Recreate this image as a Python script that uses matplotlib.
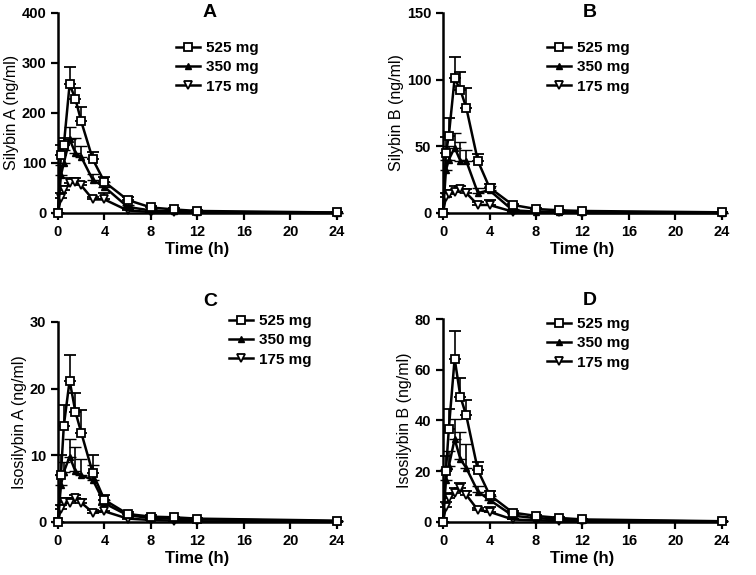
import numpy as np
import matplotlib.pyplot as plt

plt.rcParams['font.family'] = ['Liberation Sans', 'DejaVu Sans']

# sampling times (h)
time_h = [0, 0.25, 0.5, 1, 1.5, 2, 3, 4, 6, 8, 10, 12, 24]
doses = ['525 mg', '350 mg', '175 mg']

# Silybin A (ng/ml)
sa_525 = [0, 115, 135, 257, 228, 183, 107, 62, 26, 11, 7, 4, 1]
sa_525_err = [0, 20, 15, 35, 22, 28, 15, 10, 5, 3, 2, 1, 0]
sa_350 = [0, 75, 100, 147, 120, 112, 66, 52, 12, 5, 3, 2, 0.5]
sa_350_err = [0, 20, 25, 25, 30, 22, 12, 10, 3, 2, 1, 1, 0]
sa_175 = [0, 30, 45, 60, 62, 55, 27, 27, 5, 2, 1, 1, 0]
sa_175_err = [0, 10, 8, 10, 8, 6, 4, 12, 2, 1, 1, 0, 0]

# Silybin B (ng/ml)
sb_525 = [0, 45, 58, 101, 92, 79, 39, 19, 6, 3, 2, 1.5, 0.5]
sb_525_err = [0, 12, 13, 16, 14, 15, 5, 3, 1, 1, 0.5, 0, 0]
sb_350 = [0, 32, 40, 49, 39, 39, 15, 17, 2, 1, 1, 0.5, 0]
sb_350_err = [0, 8, 10, 11, 14, 8, 4, 3, 1, 0.5, 0, 0, 0]
sb_175 = [0, 12, 14, 16, 18, 15, 6, 6, 1, 0.5, 0.5, 0, 0]
sb_175_err = [0, 3, 3, 4, 2, 3, 2, 4, 0.5, 0, 0, 0, 0]

# Isosilybin A (ng/ml)
ia_525 = [0, 7, 14.4, 21.2, 16.5, 13.4, 7.3, 3.3, 1.2, 0.8, 0.7, 0.5, 0.2]
ia_525_err = [0, 3, 3.1, 3.8, 2.8, 3.4, 2.7, 0.8, 0.3, 0.2, 0.1, 0.1, 0]
ia_350 = [0, 5.5, 7.5, 9.8, 7.6, 7.0, 6.3, 2.8, 1.0, 0.6, 0.5, 0.4, 0.1]
ia_350_err = [0, 1.5, 1.5, 2.6, 3.6, 2.5, 2.2, 0.5, 0.2, 0.1, 0.1, 0, 0]
ia_175 = [0, 2.0, 3.0, 2.8, 3.6, 2.9, 1.4, 1.6, 0.5, 0.3, 0.2, 0.1, 0]
ia_175_err = [0, 0.5, 0.6, 0.8, 0.5, 0.6, 0.4, 1.0, 0.2, 0.1, 0, 0, 0]

# Isosilybin B (ng/ml)
ib_525 = [0, 20, 36.7, 64.4, 49.3, 42, 20.4, 10.7, 3.7, 2.4, 1.6, 1.0, 0.3]
ib_525_err = [0, 6, 8, 11, 7.4, 6, 3.3, 1.5, 0.5, 0.3, 0.2, 0.1, 0]
ib_350 = [0, 16.7, 22, 32.7, 24.7, 21.3, 12, 8.7, 2.5, 1.5, 1.0, 0.6, 0.2]
ib_350_err = [0, 4, 6, 8, 10.6, 9.4, 2, 1.5, 0.5, 0.3, 0.2, 0.1, 0]
ib_175 = [0, 6, 9.3, 11.3, 13.3, 10.7, 4.7, 4.0, 1.0, 0.6, 0.4, 0.2, 0]
ib_175_err = [0, 2, 2, 2, 2, 1.5, 1, 2, 0.3, 0.1, 0, 0, 0]

panels = [
    ('A', 'Silybin A (ng/ml)', 400, 100,
     [(sa_525, sa_525_err), (sa_350, sa_350_err), (sa_175, sa_175_err)],
     [0.0767, 0.6296, 0.369, 0.348], (0.40, 0.89), 1.0),
    ('B', 'Silybin B (ng/ml)', 150, 50,
     [(sb_525, sb_525_err), (sb_350, sb_350_err), (sb_175, sb_175_err)],
     [0.586, 0.6296, 0.369, 0.348], (0.35, 0.89), 1.0),
    ('C', 'Isosilybin A (ng/ml)', 30, 10,
     [(ia_525, ia_525_err), (ia_350, ia_350_err), (ia_175, ia_175_err)],
     [0.0767, 0.0922, 0.369, 0.348], (0.59, 1.07), 1.1),
    ('D', 'Isosilybin B (ng/ml)', 80, 20,
     [(ib_525, ib_525_err), (ib_350, ib_350_err), (ib_175, ib_175_err)],
     [0.586, 0.0922, 0.369, 0.353], (0.35, 1.04), 1.09),
]

styles = [
    dict(marker='s', markersize=6.3, markerfacecolor='white', markeredgewidth=1.3),
    dict(marker='^', markersize=5, markerfacecolor='black', markeredgewidth=1.0),
    dict(marker='v', markersize=6.3, markerfacecolor='white', markeredgewidth=1.3),
]

fig = plt.figure(figsize=(7.56, 5.75), dpi=100)

for letter, ylabel, ymax, ystep, series, pos, leg_xy, title_y in panels:
    ax = fig.add_axes(pos)
    handles = []
    for i in [2, 1, 0]:
        vals, err = series[i]
        yerr = [np.zeros(len(err)), err]
        ax.errorbar(time_h, vals, yerr=yerr, color='black', ecolor='black',
                    elinewidth=1.2, capsize=4, capthick=1.2, linewidth=1.8,
                    clip_on=False, zorder=3 + (2 - i), **styles[i])
    for i in range(3):
        h, = ax.plot([], [], color='black', linewidth=1.8, **styles[i])
        handles.append(h)
    ax.legend(handles, doses, loc='upper left', bbox_to_anchor=leg_xy,
              frameon=False, prop={'weight': 'bold', 'size': 11},
              handlelength=1.6, handletextpad=0.4, labelspacing=0.35,
              borderaxespad=0)
    ax.set_xlim(0, 24)
    ax.set_ylim(0, ymax)
    ax.set_xticks(np.arange(0, 25, 4))
    ax.set_yticks(np.arange(0, ymax + 1, ystep))
    for s in ['top', 'right']:
        ax.spines[s].set_visible(False)
    for s in ['left', 'bottom']:
        ax.spines[s].set_linewidth(1.8)
    ax.tick_params(width=1.6, length=5, labelsize=10.5)
    for lab in ax.get_xticklabels() + ax.get_yticklabels():
        lab.set_fontweight('bold')
    ax.set_xlabel('Time (h)', fontsize=12, fontweight='bold', labelpad=2)
    ax.set_ylabel(ylabel, fontsize=11.5, labelpad=2)
    ax.text(0.545 if letter in 'AC' else 0.527, title_y, letter,
            transform=ax.transAxes, ha='center', va='center',
            fontsize=14, fontweight='bold')

fig.savefig('out.png', dpi=100)
